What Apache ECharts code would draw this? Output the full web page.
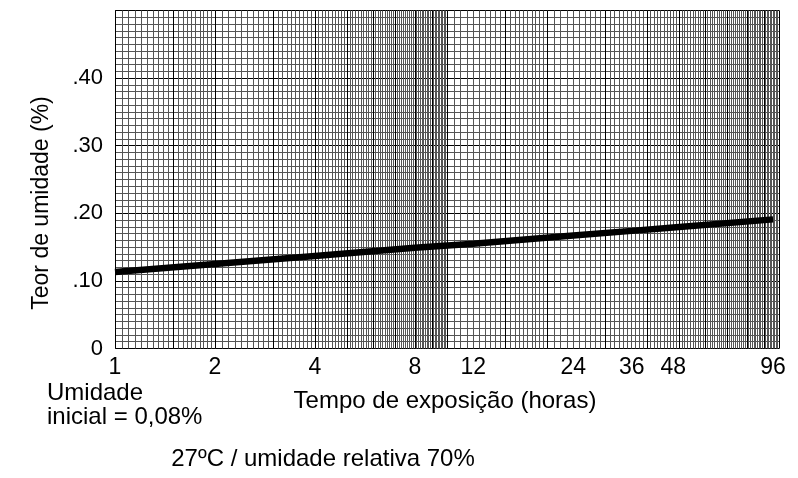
<!DOCTYPE html>
<html>
<head>
<meta charset="utf-8">
<script src="https://cdn.jsdelivr.net/npm/echarts@6/dist/echarts.min.js"></script>
<style>
html,body{margin:0;padding:0;background:#fff;}
#c{width:798px;height:478px;}
</style>
</head>
<body>
<div id="c"></div>
<script>
// ---- data ----
const hours = [1, 2, 4, 8, 12, 24, 36, 48, 96];
const moisture = [0.113, 0.125, 0.137, 0.149, 0.155, 0.167, 0.174, 0.179, 0.191];
const xTickValues = [1, 2, 4, 8, 12, 24, 36, 48, 96];
const xTickLabels = ['1', '2', '4', '8', '12', '24', '36', '48', '96'];
const yTickValues = [0, 0.1, 0.2, 0.3, 0.4];
const yTickLabels = ['0', '.10', '.20', '.30', '.40'];
const xTitle = 'Tempo de exposição (horas)';
const yTitle = 'Teor de umidade (%)';
const noteInitial = ['Umidade', 'inicial = 0,08%'];
const noteConditions = '27ºC / umidade relativa 70%';

// ---- graph paper grid positions (log paper, 2 cycles) ----
function range(a, b, step) {
  const out = [];
  const n = Math.round((b - a) / step);
  for (let i = 0; i <= n; i++) out.push(+(a + i * step).toFixed(4));
  return out;
}
const minorX = [];
[1, 10].forEach(d => {
  range(1, 2, 0.05).concat(range(2, 10, 0.1)).forEach(v => minorX.push(+(v * d).toFixed(3)));
});
const majorX = [];
[1, 10].forEach(d => {
  [1, 1.5, 2, 3, 4, 5, 6, 7, 8, 9].forEach(v => majorX.push(+(v * d).toFixed(3)));
});
majorX.push(100);

const FONT = '"Liberation Sans", Arial, sans-serif';
const chart = echarts.init(document.getElementById('c'), null, {renderer: 'canvas'});

const baseX = {
  type: 'log', logBase: 10, min: 1, max: 100, position: 'bottom',
  axisLine: {show: false}
};

chart.setOption({
  animation: false,
  backgroundColor: '#fff',
  grid: {left: 115, right: 19, top: 10.5, bottom: 129.5, containLabel: false},
  xAxis: [
    Object.assign({}, baseX, {
      axisTick: {show: false},
      splitLine: {show: false},
      axisLabel: {
        customValues: xTickValues,
        formatter: v => { const i = xTickValues.findIndex(t => Math.abs(t - v) < 1e-6); return i >= 0 ? xTickLabels[i] : ''; },
        color: '#000', fontFamily: FONT, fontSize: 23, margin: 8
      }
    }),
    Object.assign({}, baseX, {
      axisTick: {show: false, customValues: minorX},
      axisLabel: {show: false},
      splitLine: {show: true, lineStyle: {color: '#555', width: 1}}
    }),
    Object.assign({}, baseX, {
      axisTick: {show: false, customValues: majorX},
      axisLabel: {show: false},
      splitLine: {show: true, lineStyle: {color: '#000', width: 1}}
    })
  ],
  yAxis: [{
    type: 'value', min: 0, max: 0.5, interval: 0.1,
    axisLine: {show: false},
    axisTick: {show: false},
    axisLabel: {
      customValues: yTickValues,
      formatter: v => { const i = yTickValues.findIndex(t => Math.abs(t - v) < 1e-6); return i >= 0 ? yTickLabels[i] : ''; },
      color: '#000', fontFamily: FONT, fontSize: 22, margin: 12
    },
    splitLine: {show: true, lineStyle: {color: '#000', width: 1}},
    minorTick: {show: false, splitNumber: 10},
    minorSplitLine: {show: true, lineStyle: {color: '#555', width: 1}}
  }],
  series: [{
    type: 'line',
    xAxisIndex: 0, yAxisIndex: 0,
    data: hours.map((h, i) => [h, moisture[i]]),
    showSymbol: false, symbol: 'none',
    lineStyle: {color: '#000', width: 6.5, cap: 'butt'},
    z: 10
  }],
  graphic: [
    {type: 'text', position: [445, 401], style: {text: xTitle, font: '24px ' + FONT, fill: '#000', textAlign: 'center', textVerticalAlign: 'middle'}},
    {type: 'text', rotation: Math.PI / 2, position: [42, 203], style: {text: yTitle, font: '23px ' + FONT, fill: '#000', textAlign: 'center', textVerticalAlign: 'middle'}},
    {type: 'text', position: [47, 393], style: {text: noteInitial[0], font: '24px ' + FONT, fill: '#000', textAlign: 'left', textVerticalAlign: 'middle'}},
    {type: 'text', position: [47, 417], style: {text: noteInitial[1], font: '24px ' + FONT, fill: '#000', textAlign: 'left', textVerticalAlign: 'middle'}},
    {type: 'text', position: [323, 459], style: {text: noteConditions, font: '24px ' + FONT, fill: '#000', textAlign: 'center', textVerticalAlign: 'middle'}}
  ]
});
</script>
</body>
</html>
